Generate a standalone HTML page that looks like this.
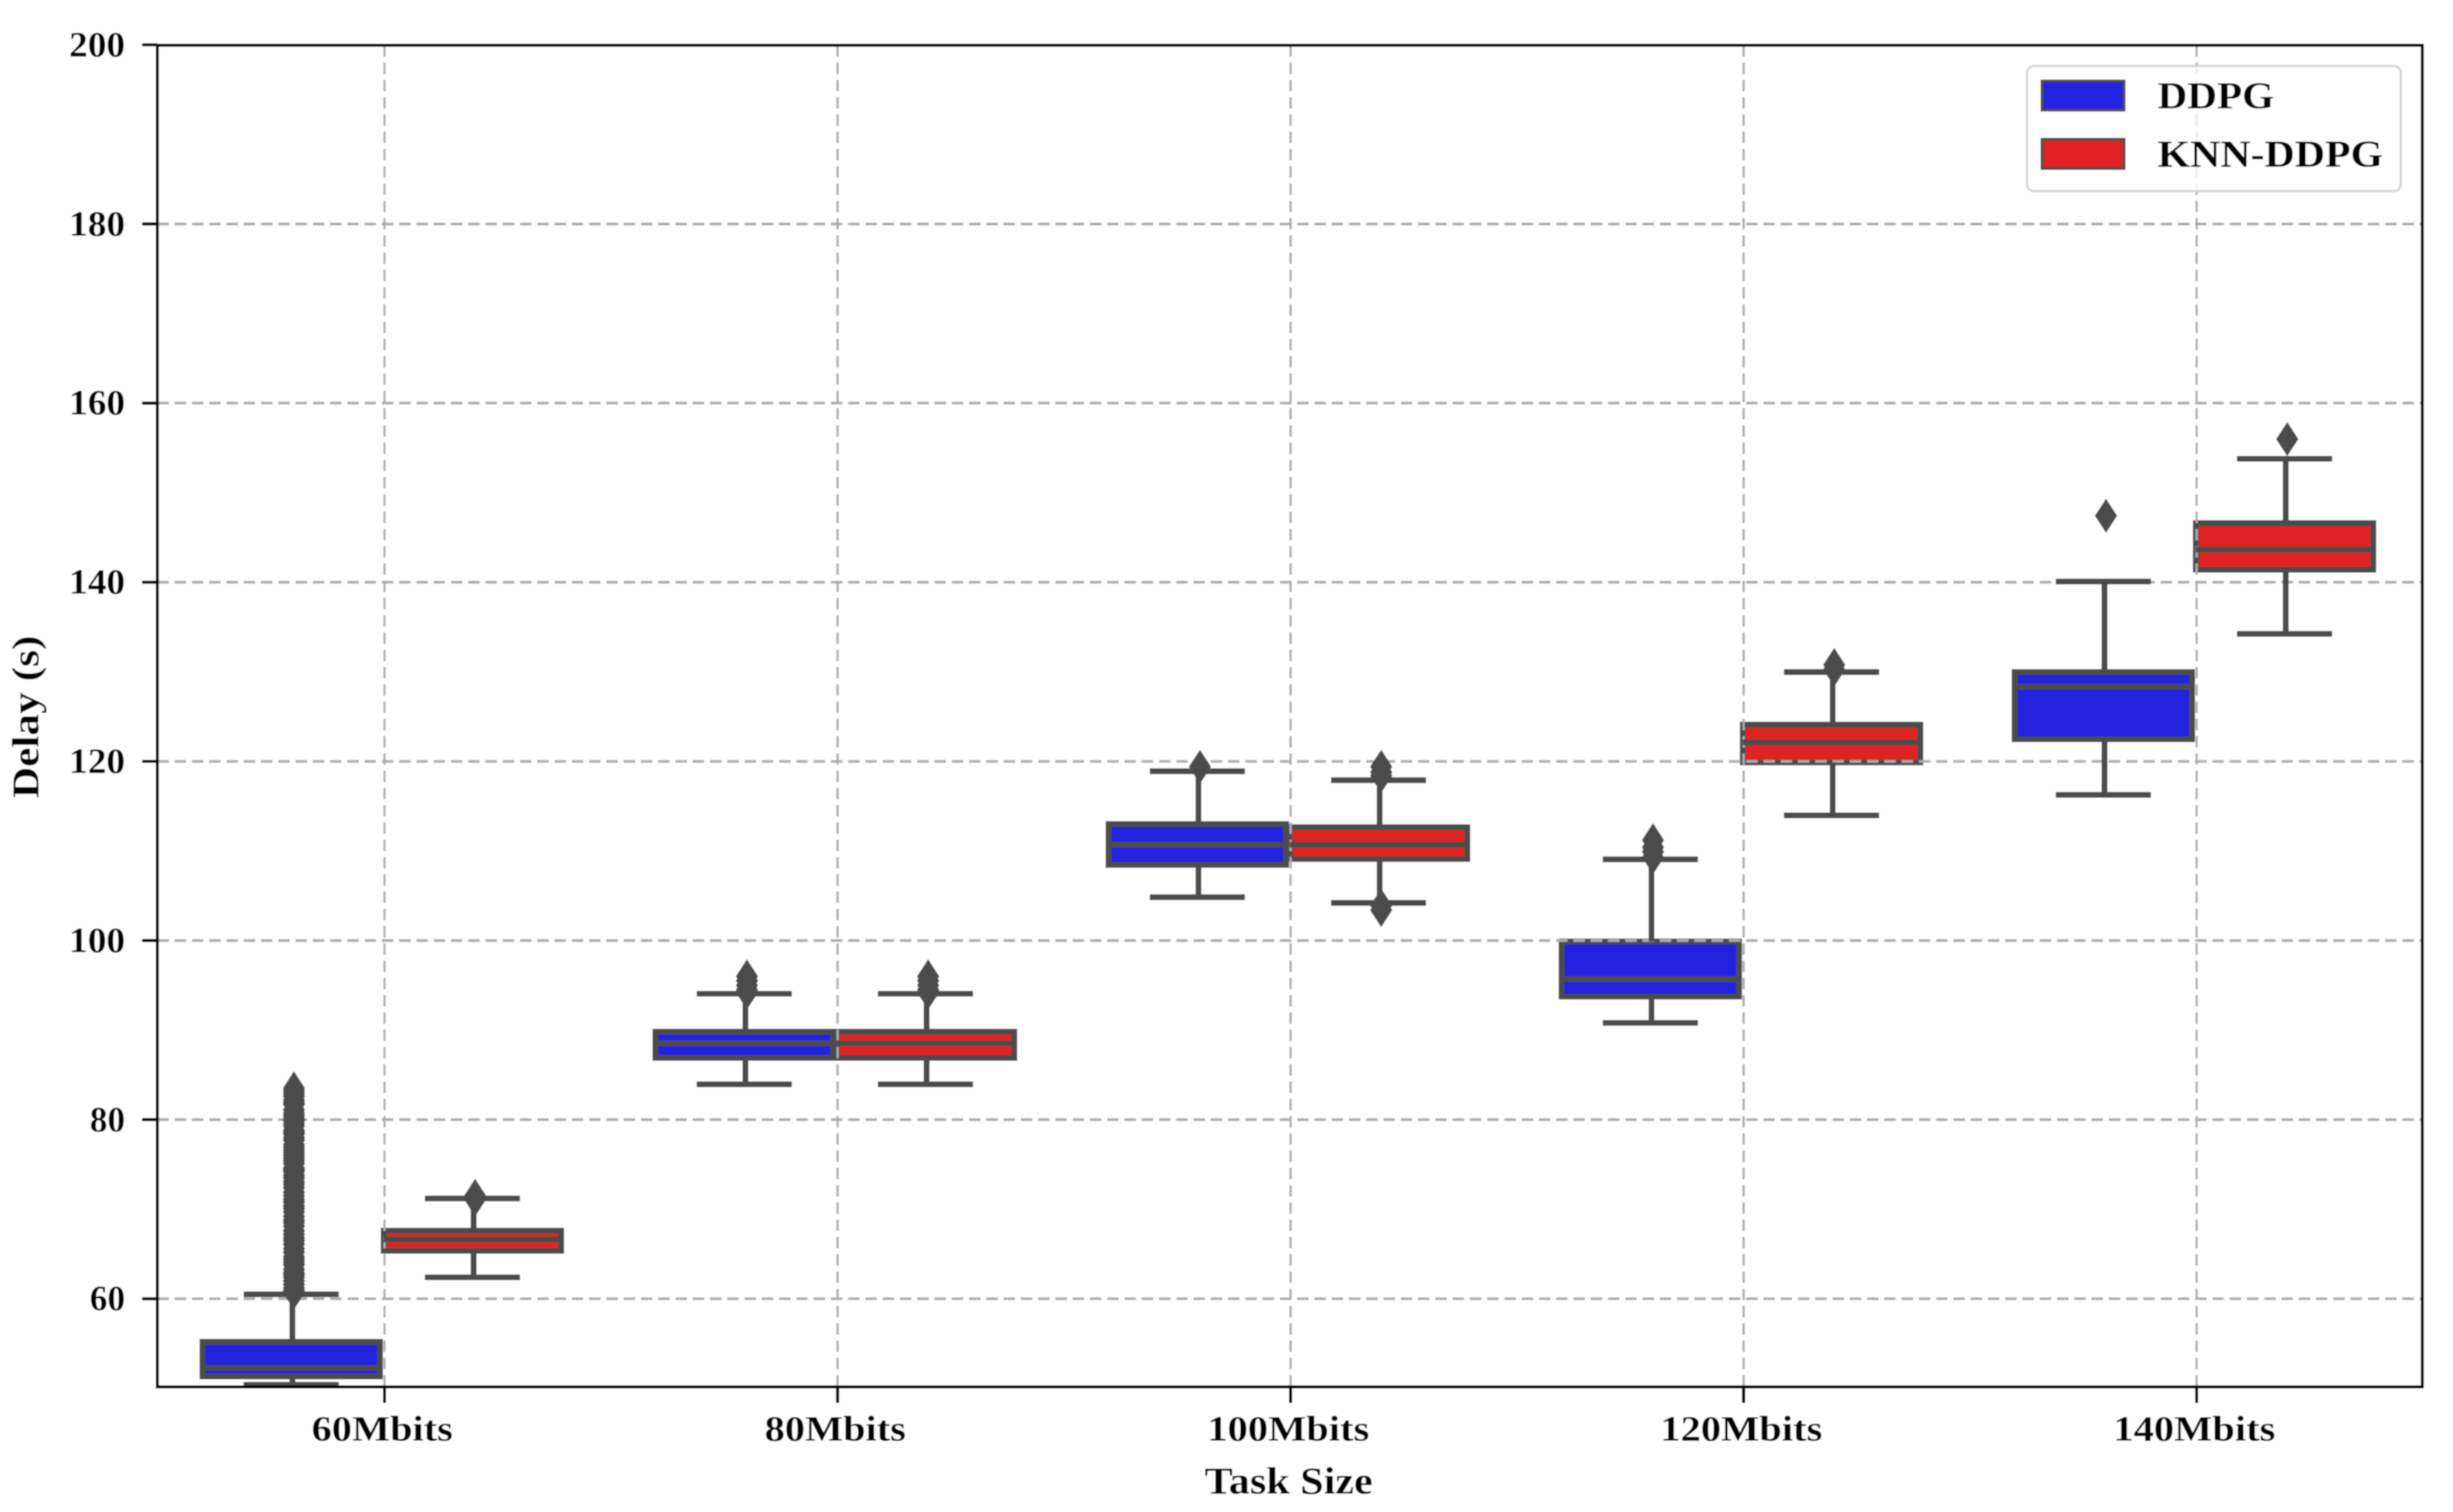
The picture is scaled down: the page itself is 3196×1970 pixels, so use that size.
<!DOCTYPE html>
<html lang="en">
<head>
<meta charset="utf-8">
<title>Delay vs Task Size box plot</title>
<style>
  html, body { margin: 0; padding: 0; background: #fff; }
  svg { display: block; }
  text { font-family: "Liberation Serif", serif; font-weight: bold; fill: #000; }
</style>
</head>
<body>
<svg id="chart" xmlns="http://www.w3.org/2000/svg" width="3196" height="1970" viewBox="0 0 3196 1970">
  <defs>
    <filter id="soft" x="0" y="0" width="100%" height="100%"><feGaussianBlur stdDeviation="0.9"/></filter>
    <clipPath id="plot-clip"><rect x="205" y="59" width="2951" height="1748"/></clipPath>
  </defs>
  <g id="root" filter="url(#soft)">
    <rect x="0" y="0" width="3196" height="1970" fill="#ffffff"/>
    <g id="patches" clip-path="url(#plot-clip)"></g>
    <g id="grid" clip-path="url(#plot-clip)"></g>
    <g id="lines" clip-path="url(#plot-clip)"></g>
    <g id="axes"></g>
    <text x="1679" y="1946" text-anchor="middle" font-size="50" textLength="219" lengthAdjust="spacingAndGlyphs">Task Size</text>
    <text transform="translate(50 934) rotate(-90)" text-anchor="middle" font-size="50" textLength="212" lengthAdjust="spacingAndGlyphs">Delay (s)</text>
    <g>
      <rect x="2641" y="86" width="487" height="163" rx="9" ry="9" fill="#ffffff" fill-opacity="0.8" stroke="#d5d5d5" stroke-width="3"/>
      <rect x="2660.5" y="105.5" width="107" height="38" fill="#2020df" stroke="#4c4c4c" stroke-width="3.5"/>
      <text x="2811" y="141" font-size="50" textLength="152" lengthAdjust="spacingAndGlyphs">DDPG</text>
      <rect x="2660.5" y="181.5" width="107" height="38" fill="#df2020" stroke="#4c4c4c" stroke-width="3.5"/>
      <text x="2811" y="217" font-size="50" textLength="294" lengthAdjust="spacingAndGlyphs">KNN-DDPG</text>
    </g>
  </g>
</svg>
<script>
// ---- data ----
const categories = ["60Mbits", "80Mbits", "100Mbits", "120Mbits", "140Mbits"];
const yTicks = [60, 80, 100, 120, 140, 160, 180, 200];

const ddpgQ1 = [51.33, 86.9, 108.44, 93.74, 122.47];
const ddpgMedian = [52.3, 88.52, 110.7, 95.7, 128.34];
const ddpgQ3 = [55.2, 89.82, 113.0, 99.9, 129.97];
const ddpgWhiskerLow = [50.4, 83.95, 104.83, 90.8, 116.26];
const ddpgWhiskerHigh = [60.5, 94.06, 118.9, 109.06, 140.08];
const ddpgOutliers = [
  [83.5, 83.2, 82.9, 82.6, 82.2, 81.9, 81.7, 81.1, 80.7, 80.4, 80.1, 79.9, 79.6, 79.3, 78.8, 78.6, 78.4, 78.0, 77.7, 77.2, 76.9, 76.6, 76.3, 76.0, 75.7, 75.4, 75.1, 74.6, 74.4, 74.2, 73.8, 73.5, 73.1, 72.8, 72.4, 71.9, 71.5, 71.1, 70.8, 70.4, 70.1, 69.7, 69.2, 68.8, 68.5, 68.1, 67.6, 67.2, 66.8, 66.5, 66.1, 65.6, 65.2, 64.7, 64.4, 64.1, 63.8, 63.3, 62.9, 62.7, 62.4, 62.0, 61.6, 61.2, 60.9, 60.7],
  [96.0, 95.5, 95.0, 94.5, 94.2],
  [119.4],
  [111.2, 110.4, 109.9, 109.3],
  [147.42]
];

const knnQ1 = [65.35, 86.9, 109.1, 119.88, 141.4];
const knnMedian = [66.63, 88.52, 110.7, 122.13, 143.65];
const knnQ3 = [67.6, 89.82, 112.65, 124.1, 146.6];
const knnWhiskerLow = [62.4, 83.95, 104.2, 113.97, 134.24];
const knnWhiskerHigh = [71.2, 94.06, 117.9, 129.97, 153.78];
const knnOutliers = [
  [71.5, 71.1],
  [96.0, 95.5, 95.0, 94.5, 94.2],
  [119.4, 118.8, 118.4, 103.9, 103.4],
  [130.77, 130.26],
  [155.98]
];

const seriesFill = { ddpg: "#2020df", knn: "#df2020" };

// ---- axis functions ----
const svgNS = "http://www.w3.org/2000/svg";
const xScale = v => 501 + 590.25 * v;
const yScale = v => 58.4 + (200 - v) * 11.67;
const plotLeft = 205, plotRight = 3156, plotTop = 59, plotBottom = 1807;
const dodge = 0.2, boxFrac = 0.392, capFrac = 0.21, lineColor = "#4c4c4c", lineW = 7.5;
const imageShift = -3.5;

const patches = document.getElementById("patches");
const grid = document.getElementById("grid");
const lines = document.getElementById("lines");
const axes = document.getElementById("axes");

function mk(parent, tag, attrs) {
  const e = document.createElementNS(svgNS, tag);
  for (const k in attrs) e.setAttribute(k, attrs[k]);
  parent.appendChild(e);
  return e;
}

// grid and ticks
yTicks.forEach(v => {
  const y = yScale(v);
  const g = mk(grid, "line", { x1: plotLeft, x2: plotRight, y1: y, y2: y, stroke: "#adadad", "stroke-width": 3.6, "stroke-dasharray": "15 7.5" });
  
  
  const t = mk(axes, "line", { x1: 185, x2: plotLeft, y1: y, y2: y, stroke: "#000", "stroke-width": 4 });
  
  
  const l = mk(axes, "text", { x: 163, y: y + 15, "text-anchor": "end", "font-size": 47, textLength: String(v).length === 2 ? 46 : 73, lengthAdjust: "spacingAndGlyphs" });
  l.textContent = v;
  
  
});

categories.forEach((c, i) => {
  const x = xScale(i);
  const g = mk(grid, "line", { x1: x, x2: x, y1: plotTop, y2: plotBottom, stroke: "#adadad", "stroke-width": 3, "stroke-dasharray": "15 7.5" });
  
  
  const t = mk(axes, "line", { x1: x, x2: x, y1: plotBottom, y2: plotBottom + 21, stroke: "#000", "stroke-width": 4 });
  
  
  const l = mk(axes, "text", { x: x - 3, y: 1877, "text-anchor": "middle", "font-size": 47, textLength: 184 + (c.length - 7) * 27, lengthAdjust: "spacingAndGlyphs" });
  l.textContent = c;
  
  
});

const spine = mk(axes, "rect", { x: plotLeft, y: plotTop, width: plotRight - plotLeft, height: plotBottom - plotTop, fill: "none", stroke: "#000", "stroke-width": 4 });



// boxes
function drawBox(key, i, offset, q1, med, q3, lo, hi, outs) {
  const cx = xScale(i + offset) + imageShift;
  const half = (boxFrac * 590.25) / 2;
  const capHalf = (capFrac * 590.25) / 2;
  const name = key + '-' + categories[i];

  const box = mk(patches, "rect", { x: cx - half, y: yScale(q3), width: half * 2, height: yScale(q1) - yScale(q3), fill: seriesFill[key], stroke: lineColor, "stroke-width": lineW });
  
  

  const wx = cx + 1.5;
  const wUp = mk(lines, "line", { x1: wx, x2: wx, y1: yScale(q3), y2: yScale(hi), stroke: lineColor, "stroke-width": lineW });
  
  

  const wDown = mk(lines, "line", { x1: wx, x2: wx, y1: yScale(q1), y2: yScale(lo), stroke: lineColor, "stroke-width": lineW });
  
  

  const capUp = mk(lines, "line", { x1: cx - capHalf, x2: cx + capHalf, y1: yScale(hi), y2: yScale(hi), stroke: lineColor, "stroke-width": lineW });
  
  

  const capDown = mk(lines, "line", { x1: cx - capHalf, x2: cx + capHalf, y1: yScale(lo), y2: yScale(lo), stroke: lineColor, "stroke-width": lineW });
  
  

  const medLine = mk(lines, "line", { x1: cx - half, x2: cx + half, y1: yScale(med), y2: yScale(med), stroke: lineColor, "stroke-width": lineW });
  
  

  outs.forEach((v, k) => {
    const ox = cx + 3.5, oy = yScale(v);
    const d = mk(lines, "polygon", { points: `${ox},${oy - 20} ${ox + 13},${oy} ${ox},${oy + 20} ${ox - 13},${oy}`, fill: lineColor, stroke: lineColor, "stroke-width": 2.5, "stroke-linejoin": "miter" });
    
    
  });
}

categories.forEach((c, i) => {
  drawBox("ddpg", i, -dodge, ddpgQ1[i], ddpgMedian[i], ddpgQ3[i], ddpgWhiskerLow[i], ddpgWhiskerHigh[i], ddpgOutliers[i]);
  drawBox("knn", i, dodge, knnQ1[i], knnMedian[i], knnQ3[i], knnWhiskerLow[i], knnWhiskerHigh[i], knnOutliers[i]);
});
</script>
</body>
</html>
